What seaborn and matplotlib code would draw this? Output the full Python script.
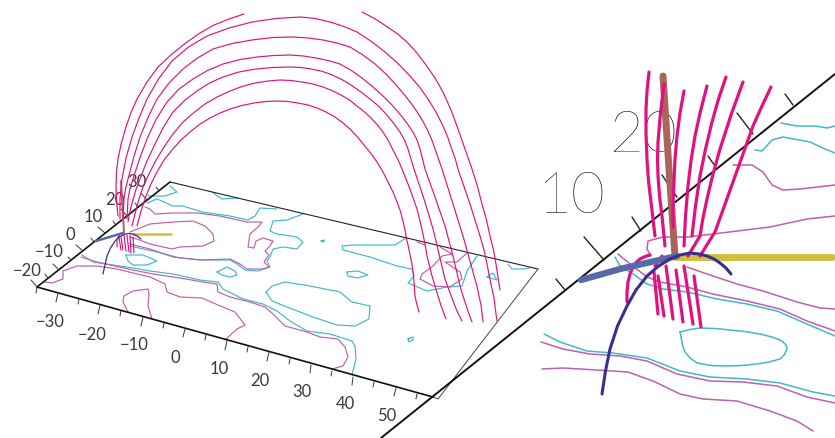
import matplotlib
matplotlib.use('Agg')
import matplotlib.pyplot as plt
import seaborn as sns

# ==========================================
# 1. TRACED CURVES (x, y)
# ==========================================
ARC_1 = [(137,227),(141,212),(146,197),(151,185),(157,173),(164,161),(172,151),(181,141),(190,133),(200,125),(210,119),(220,114),(230,110),(242,106.5),(254,104),(266,102.5),(277,102),(288,102.5),(298,104),(308,106),(317,109),(326,113),(335,118),(343,124),(350,130),(357.5,138),(364,146),(371,154.5),(377,163),(383,173),(388,183),(393,193),(397,203),(400.5,212.5),(403,222),(405,231),(406.5,240),(408.5,248),(410,256),(412,265),(413,273),(414,282),(414.5,290),(415,297),(416.5,304),(419,313)]
ARC_2 = [(132,227),(135.5,213),(139,200),(143,188),(148,177),(155.5,162),(164,148),(173,135),(183,123),(194,113.5),(205,105),(217,98),(230,92),(242,87.5),(255,84),(268,82),(280,81),(291,81.5),(302,83),(313,85),(323,88),(332,91.5),(341,96),(349.5,101),(357,107),(364.5,113),(371,119),(377.5,126),(383,133),(388.5,142),(393,151),(398,160.5),(402,170),(406,180),(410,190),(413.5,200),(417,210),(420,222),(422.5,233),(425,245),(427,257),(429.5,267),(432,277),(435,287),(438,297),(441.5,308),(446,320)]
ARC_3 = [(128,223),(130,212),(133,201),(136,190.5),(140,180),(147,162),(155,145),(163.5,128),(173,113),(184.5,101.5),(197,92),(209.5,84),(223,78),(239,73),(256,70),(273,68.5),(290,68),(301,68.5),(311,70),(321,72),(330,75),(341,80),(351,86),(361,93),(370,100),(378.5,107),(386,115),(393.5,124),(400,133),(404.5,141),(408,150),(411,160),(414,170),(419,185),(424,200),(428.5,215),(433,230),(436,242),(439,255),(442,267.5),(445,280),(449,291),(453,302),(457,312),(462,322)]
ARC_4 = [(127,220),(127.5,210),(128,200),(130,190),(133,180),(139.5,160),(147,140),(156,120.5),(167,103),(179,90),(193,80),(207.5,71.5),(223,65),(240,60.5),(257,58),(274,56.5),(290,56),(303.5,57),(316,59),(328,61.5),(340,65),(351.5,71.5),(362,79),(373,88),(383,97),(391.5,105.5),(399,114),(406.5,123.5),(413,133),(417,141),(420,150),(422.5,160),(425,170),(430,184),(435,198),(440,212.5),(445,227),(449,242),(453,257),(456.5,272),(460,287),(463,297),(466,306),(469,315),(472,323)]
ARC_5 = [(123,220),(123.5,210),(124,200),(125.5,190),(128,180),(133.5,159),(140,138),(148,118.5),(157,100),(169,84),(183,70),(197.5,59),(213,50),(232,44.5),(252,41),(272.5,38.5),(293,38),(308.5,39),(323,41),(337,44),(350,48),(363,56),(375,65),(386.5,75.5),(397,87),(405.5,97),(413,107),(420.5,118),(427,130),(431.5,140),(435,150),(438.5,160),(442,170),(447.5,187.5),(453,205),(458,221),(463,237),(466.5,249.5),(470,262),(473.5,275),(477,287),(479,297),(481,306),(482,314),(483,323)]
ARC_6 = [(120,220),(120,210),(120,200),(121,190),(122,180),(126,159),(132,138),(139,119),(147,100),(158.5,80),(172,62),(188.5,48),(207,37),(229,29),(252,23),(276,19.5),(300,18),(315.5,19.5),(330,23),(344,27.5),(357,33),(371.5,42.5),(385,53),(398,64.5),(410,77),(419.5,88),(428,100),(436,113),(443,127),(447.5,137.5),(451,148),(455,159),(458,170),(464,187.5),(470,205),(475,221),(480,237),(484,251),(487,265),(489.5,278),(492,290),(494,299),(495,307),(496,315),(497,322)]
ARC_7A = [(118,217),(116.5,202),(116,187),(116.5,173),(118,160),(121.5,143.5),(126,128),(131,113.5),(137,100),(147,83),(158,68),(172,55),(187,43),(200,34),(214,26),(229,20),(244,15)]
ARC_7B = [(362,13),(374.5,19.5),(386,27),(397,34.5),(407,43),(417,54),(426,66),(435,79),(443,93),(451,111),(458,130),(465,150),(472,170),(477.5,187.5),(482,205),(486.5,221),(490,237),(493.5,251),(496,265),(498,278),(500,291)]
FOOT_LEFT = [
    [(119,238),(121,251)], [(121,238),(123,251)], [(124,236),(126,252)],
    [(127,236),(129,253)], [(130,236),(131,254)], [(133,238),(134,254)],
    [(117,248),(117,240),(120,235),(124,234)],
]

# contours of the left panel
CYAN_LEFT = [
    [(170,187),(177,193),(165,197),(153,197),(148,197)],
    [(147,204),(157,200),(173,207),(183,207),(202,213),(230,217),(248,221),(255,217),(260,209),(277,210)],
    [(212,193),(222,200),(238,199)],
    [(130,247),(157,253),(180,259),(203,261),(230,261),(237,265),(245,271),(258,272),(270,268),(267,262),(270,258),(273,250),(283,248),(297,250),(303,243),(297,238),(277,235),(270,232),(273,222),(287,221),(303,215)],
    [(217,273),(227,268),(235,272),(237,276),(230,278),(222,276),(217,273)],
    [(126,256),(143,256),(157,262),(147,266),(133,266),(128,262),(126,256)],
    [(82,256),(93,263),(113,266),(133,269),(150,272),(173,275),(200,281),(218,283),(223,290),(243,300),(263,305),(277,312),(290,322),(307,332),(330,335),(352,342),(355,347),(356,360),(352,376)],
    [(406,239),(395,246),(353,246),(342,247),(343,251),(370,258),(397,267),(412,270),(414,277),(408,284),(427,292),(447,288),(462,287),(467,272),(477,257)],
    [(347,273),(358,272),(368,276),(357,279),(348,277),(347,273)],
    [(266,293),(272,287),(285,283),(310,287),(340,293),(352,303),(370,307),(369,320),(355,327),(337,326),(313,318),(287,308),(272,302),(266,293)],
    [(508,265),(512,270),(523,270),(530,269)],
    [(487,278),(493,274),(497,281),(487,278)],
    [(408,340),(413,338),(413,341),(409,343),(408,340)],
    [(321,242),(324,241),(324,243),(321,242)],
]
MAGENTA_LEFT = [
    [(145,208),(150,210),(155,215),(173,214),(197,214),(220,217),(247,223),(262,223),(258,228),(250,235),(248,248),(254,249),(256,242),(263,239),(273,242),(270,247),(265,252),(269,256),(264,263),(269,268),(263,270),(247,270),(240,265),(230,260),(200,261),(173,258),(150,250),(130,245)],
    [(130,233),(150,225),(173,223),(193,222),(205,227),(213,235),(214,242),(203,247),(180,248),(172,250),(150,245),(137,240),(130,238)],
    [(81,258),(97,263),(115,267),(133,271),(153,275),(180,279),(203,283),(217,285),(218,293),(230,298),(250,303),(265,308),(273,315),(285,327),(307,333),(320,338),(338,340),(345,348),(348,358),(343,367),(332,370)],
    [(45,283),(52,284),(63,280),(63,272),(77,267),(97,267),(117,270),(133,274),(150,278),(165,285),(167,293),(180,298),(202,299),(218,306),(235,313),(245,326),(237,330),(225,341)],
    [(128,313),(123,303),(124,297),(133,292),(148,290),(149,295),(148,307),(152,320)],
    [(417,243),(425,246)],
    [(440,248),(452,255),(442,257),(433,267),(422,275),(420,280),(433,287),(450,288),(462,280),(460,273),(445,263),(457,263),(467,254)],
]

# zoomed panel on the right
PINK_RIGHT = [
    [(649,73),(647,92),(646,110),(646,135),(647,160),(648.5,182),(651,203),(653,220),(655,237)],
    [(664,85),(660.5,114),(658,143),(657.5,160),(658,177),(659.5,197),(662,217),(665,247)],
    [(684,92),(680,114),(677,137),(675,160),(674,183),(673,205),(673,228)],
    [(707,87),(700.5,112),(695,137),(691,162),(688,187),(685.5,217),(684,247)],
    [(726,78),(718.5,100),(712,123),(705.5,150),(700,177),(695.5,207),(692,237)],
    [(743,83),(731,116),(720,150),(713,175),(707,200),(703,219),(700,237),(688,257)],
    [(771,88),(762,107),(753,127),(743,155),(733,183),(724,208),(715,233),(700,257)],
    [(658,315),(654,273)], [(664,317),(658,277)], [(673,320),(666,267)],
    [(683,323),(676,271)], [(693,325),(684,267)], [(701,328),(694,277)],
    [(627,303),(627,293),(628,283),(630,275),(633,268),(636,263.5),(640,260),(645,257.5),(650,256)],
    [(655,267),(662,257)],
]
CYAN_RIGHT = [
    [(781,124),(797,127),(815,127),(827,129),(835,127)],
    [(755,151),(762,152),(772,141),(783,138),(810,143),(825,150),(835,154)],
    [(615,258),(620,267),(633,275),(647,285),(663,290),(687,293),(717,300),(747,305),(777,312),(800,322),(835,337)],
    [(680,333),(690,330.5),(700,329),(715,329.5),(730,331),(745,332.5),(760,335),(772,338),(782,342),(786,346),(787,350),(784.5,355.5),(780,360),(769,363),(757,365),(742,366.5),(727,367),(711,366.5),(697,364),(690,359),(685,353),(683,348),(682,343),(681,338),(680,333)],
    [(544,335),(560,343),(587,352),(613,354),(647,359),(680,372),(710,378),(747,380),(780,384),(813,393),(835,397)],
]
MAGENTA_RIGHT = [
    [(733,166),(752,166),(763,173),(772,186),(783,191),(800,190),(835,186)],
    [(651,257),(647,250),(648,242),(663,238),(687,238),(713,235),(770,228),(807,220),(835,217)],
    [(687,268),(707,275),(737,285),(763,292),(797,303),(820,309),(835,310)],
    [(618,255),(630,265),(647,278),(660,283),(687,288),(713,295),(747,302),(780,310),(807,322),(835,332)],
    [(541,343),(563,350),(590,355),(620,357),(647,362),(677,375),(710,382),(743,383),(777,387),(807,398),(835,404)],
    [(542,370),(563,369),(597,371),(628,373),(653,382),(680,395),(703,400),(737,402),(770,412),(797,422),(813,432)],
]

# axes, frame and the three coloured axes
FRONT_AXIS = [(37,288),(433,398)]
SIDE_AXIS = [(37,288),(170,183)]
FRAME_TOP = [(170,183),(538,270)]
FRAME_RIGHT = [(538,270),(438,400),(433,398)]
ZOOM_AXIS = [(835,75),(381,439)]

FRONT_TICKS_MAJOR = [[(58,294),(56,303)],[(100,306),(98,315)],[(143,318),(141,327)],[(185,330),(183,338)],[(227,342),(225,351)],[(269,353),(267,362)],[(311,366),(310,374)],[(353,378),(352,386)],[(396,389),(394,397)]]
FRONT_TICKS_MINOR = [[(37,288),(36,294)],[(79,300),(78,305)],[(121,312),(120,317)],[(164,324),(163,329)],[(206,336),(205,341)],[(248,348),(247,353)],[(290,360),(289,365)],[(332,372),(331,377)],[(374,383),(373,388)],[(417,395),(416,400)]]
SIDE_TICKS_MAJOR = [[(37,288),(31,281)],[(59,271),(53,265)],[(83,252),(76,246)],[(105,234),(98,228)],[(127,217),(121,210)],[(147,201),(141,194)]]
SIDE_TICKS_MINOR = [[(48,279),(45,275)],[(71,261),(68,258)],[(94,243),(91,239)],[(116,226),(113,222)],[(138,208),(135,204)],[(159,192),(156,188)]]
ZOOM_TICKS_MAJOR = [[(604,261),(584,238)],[(677,198),(662,176)],[(753,135),(737,114)]]
ZOOM_TICKS_MINOR = [[(565,291),(556,280)],[(641,232),(632,218)],[(715,167),(708,157)],[(793,106),(785,95)]]

YELLOW_LEFT = [(133,235),(171,235)]
BROWN_LEFT = [(121,182),(124,233)]
BLUE_LEFT = [(96,242),(123,234)]
NAVY_LEFT = [(103,275),(105,266),(107,257),(110.5,249),(115,242),(120,237.5),(125,235),(129,234.5),(133,235),(137,237),(141,240)]
YELLOW_RIGHT = [(675,258),(832,258)]
BROWN_RIGHT = [(663,77),(669,170),(675,257)]
BLUE_RIGHT = [(581,281),(620,270),(677,257)]
NAVY_RIGHT = [(602,395),(605.5,372),(610,350),(617.5,327),(627,307),(636,291),(647,277),(658,267.5),(670,260),(680,256),(690,254),(699,255),(707,257),(714,260),(720,264),(726,269),(731,275)]

FRONT_LABELS = ['\u221230','\u221220','\u221210','0','10','20','30','40','50']
FRONT_LABEL_X = [50,92,134,175,219,260,302,345,387]
FRONT_LABEL_Y = [322,335,345,358,369,381,392,404,416]
SIDE_LABELS = ['\u221220','\u221210','0','10','20','30']
SIDE_LABEL_X = [27,49,70,93,115,137]
SIDE_LABEL_Y = [271,252,235,217,200,182]
ZOOM_LABELS = ['10','20']
ZOOM_LABEL_X = [571,643]
ZOOM_LABEL_Y = [197,136]

# ==========================================
# 2. COLOURS
# ==========================================
PINK = '#e0127f'
CYAN = '#3fb9c9'
MAGENTA = '#bf5fae'
YELLOW = '#d0c040'
BROWN = '#aa645c'
BLUE = '#5868a8'
NAVY = '#38308f'

# ==========================================
# 3. FIGURE
# ==========================================
sns.set_theme(style='white')
plt.rcParams['font.family'] = ['Lato', 'DejaVu Sans']

fig, ax = plt.subplots(figsize=(8.35, 4.39), dpi=100)
fig.subplots_adjust(left=0, right=1, bottom=0, top=1)


def trace(points, color, lw):
    """ Draws one traced curve in picture coordinates. """
    xs = [p[0] for p in points]
    ys = [p[1] for p in points]
    sns.lineplot(x=xs, y=ys, sort=False, estimator=None, errorbar=None, color=color,
                 linewidth=lw, solid_capstyle='round', solid_joinstyle='round', ax=ax)


for curve in CYAN_LEFT:
    trace(curve, CYAN, 0.85)
for curve in MAGENTA_LEFT:
    trace(curve, MAGENTA, 0.85)
for curve in CYAN_RIGHT:
    trace(curve, CYAN, 1.1)
for curve in MAGENTA_RIGHT:
    trace(curve, MAGENTA, 1.1)

trace(FRONT_AXIS, '#111111', 1.2)
trace(SIDE_AXIS, '#111111', 1.2)
trace(FRAME_TOP, '#222222', 0.8)
trace(FRAME_RIGHT, '#444444', 0.7)
trace(ZOOM_AXIS, '#111111', 1.4)
for tick in FRONT_TICKS_MAJOR + FRONT_TICKS_MINOR + SIDE_TICKS_MAJOR + SIDE_TICKS_MINOR:
    trace(tick, '#333333', 0.7)
for tick in ZOOM_TICKS_MAJOR + ZOOM_TICKS_MINOR:
    trace(tick, '#222222', 1.0)

trace(YELLOW_LEFT, YELLOW, 1.8)
trace(BROWN_LEFT, BROWN, 1.4)
trace(YELLOW_RIGHT, YELLOW, 5.0)
trace(BROWN_RIGHT, BROWN, 5.0)

for arc in [ARC_1, ARC_2, ARC_3, ARC_4, ARC_5, ARC_6, ARC_7A, ARC_7B]:
    trace(arc, PINK, 0.85)
for foot in FOOT_LEFT:
    trace(foot, PINK, 0.85)
for curve in PINK_RIGHT:
    trace(curve, PINK, 2.3)

trace(BLUE_LEFT, BLUE, 1.8)
trace(NAVY_LEFT, NAVY, 0.9)
trace(BLUE_RIGHT, BLUE, 4.6)
trace(NAVY_RIGHT, NAVY, 2.2)

for label, x, y in zip(FRONT_LABELS + SIDE_LABELS, FRONT_LABEL_X + SIDE_LABEL_X, FRONT_LABEL_Y + SIDE_LABEL_Y):
    ax.text(x, y, label, fontsize=12, fontweight='normal', color='#3a3a3a', ha='center', va='center', zorder=1)
for label, x, y in zip(ZOOM_LABELS, ZOOM_LABEL_X, ZOOM_LABEL_Y):
    ax.text(x, y, label, fontsize=42, fontweight='light', color='#000000', ha='center', va='center', zorder=1)

ax.set_xlim(0, 835)
ax.set_ylim(439, 0)
ax.axis('off')

plt.savefig('out.png', dpi=100)
plt.close()
